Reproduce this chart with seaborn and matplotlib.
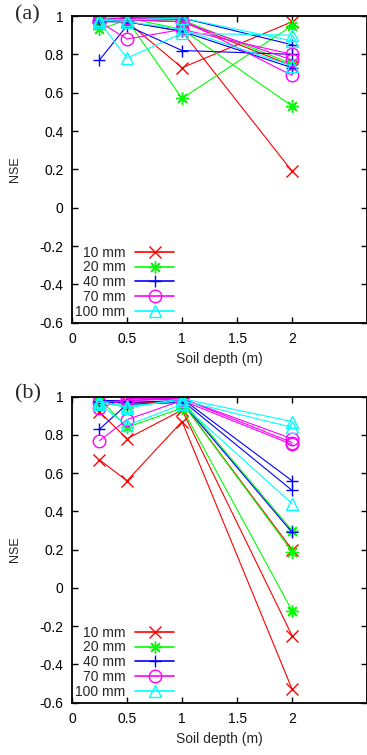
import numpy as np
import pandas as pd
import seaborn as sns
import matplotlib
matplotlib.use("Agg")
import matplotlib.pyplot as plt

# 土层深度 (m)
depths = [0.25, 0.5, 1, 2]
labels = ["10 mm", "20 mm", "40 mm", "70 mm", "100 mm"]
colors = ["#ff0000", "#00ff00", "#0000ff", "#ff00ff", "#00ffff"]
markers = ["x", (8, 2, 0), "+", "o", "^"]

# (a) NSE, three runs per rainfall
a_10mm = [[0.98, 0.97, 0.73, 0.97], [0.98, 0.97, 0.92, 0.19], [0.97, 0.98, 0.97, 0.74]]
a_20mm = [[0.93, 0.98, 0.57, 0.95], [0.99, 0.99, 0.93, 0.53], [0.98, 0.98, 0.98, 0.75]]
a_40mm = [[0.77, 0.95, 0.82, 0.80], [0.97, 0.97, 0.92, 0.73], [0.98, 0.99, 0.99, 0.85]]
a_70mm = [[0.97, 0.88, 0.93, 0.80], [0.98, 0.99, 0.98, 0.69], [0.97, 0.98, 0.97, 0.77]]
a_100mm = [[0.97, 0.78, 0.91, 0.90], [0.98, 0.97, 0.93, 0.74], [0.98, 0.98, 0.99, 0.87]]

# (b)
b_10mm = [[0.67, 0.56, 0.87, -0.53], [0.92, 0.78, 0.93, -0.25], [0.97, 0.97, 0.97, 0.20]]
b_20mm = [[0.99, 0.84, 0.94, -0.12], [0.98, 0.96, 0.97, 0.19], [0.97, 0.95, 0.98, 0.30]]
b_40mm = [[0.83, 0.96, 0.97, 0.29], [0.97, 0.97, 0.98, 0.51], [0.98, 0.98, 0.99, 0.56]]
b_70mm = [[0.77, 0.88, 0.98, 0.75], [0.94, 0.99, 0.99, 0.76], [0.97, 0.98, 0.99, 0.78]]
b_100mm = [[0.96, 0.85, 0.96, 0.44], [0.97, 0.95, 0.98, 0.84], [0.98, 0.94, 0.99, 0.87]]

panel_a = [a_10mm, a_20mm, a_40mm, a_70mm, a_100mm]
panel_b = [b_10mm, b_20mm, b_40mm, b_70mm, b_100mm]

yticks = [-0.6, -0.4, -0.2, 0, 0.2, 0.4, 0.6, 0.8, 1]
ytick_labels = ["-0.6", "-0.4", "-0.2", "0", "0.2", "0.4", "0.6", "0.8", "1"]
xticks = [0, 0.5, 1, 1.5, 2]
xtick_labels = ["0", "0.5", "1", "1.5", "2"]

sns.set_theme(style="ticks")
plt.rcParams['font.family'] = ['Liberation Sans', 'DejaVu Sans']

fig = plt.figure(figsize=(3.67, 7.55), dpi=100)
ax_a = fig.add_axes([0.196, 0.5726, 0.804, 0.4062])
ax_b = fig.add_axes([0.196, 0.0693, 0.804, 0.4053])


def draw_panel(ax, panel):
    handles = []
    for runs, lab, c, m in zip(panel, labels, colors, markers):
        for i, vals in enumerate(runs):
            df = pd.DataFrame({"depth": depths, "nse": vals})
            sns.lineplot(data=df, x="depth", y="nse", ax=ax, color=c, marker=m,
                         markersize=9, markeredgewidth=1.0, markerfacecolor="none",
                         markeredgecolor=c, linewidth=0.8, legend=False)
            if i == 0:
                handles.append(ax.get_lines()[-1])
    ax.set_xlim(0, 2.68)
    ax.set_ylim(-0.6, 1)
    ax.set_xticks(xticks)
    ax.set_xticklabels(xtick_labels)
    ax.set_yticks(yticks)
    ax.set_yticklabels(ytick_labels)
    ax.tick_params(direction="in", top=True, right=True, length=4, width=1,
                   labelsize=10, colors="black")
    ax.tick_params(axis="x", pad=7)
    ax.tick_params(axis="y", pad=6)
    for s in ax.spines.values():
        s.set_linewidth(1.3)
        s.set_color("black")
    ax.set_xlabel("Soil depth (m)", fontsize=10)
    ax.set_ylabel("NSE", fontsize=9)
    ax.xaxis.set_label_coords(0.5, -0.095)
    ax.yaxis.set_label_coords(-0.172, 0.5)
    leg = ax.legend(handles, labels, loc="lower right", bbox_to_anchor=(0.36, 0.0),
                    markerfirst=False, frameon=False, fontsize=10, handlelength=2.8,
                    handletextpad=0.7, labelspacing=0.05, borderaxespad=0.1,
                    borderpad=0.2)
    for h in leg.legend_handles:
        h.set_linewidth(1.2)


draw_panel(ax_a, panel_a)
draw_panel(ax_b, panel_b)

fig.text(0.075, 0.980, "(a)", family="Liberation Serif", fontsize=16, ha="center", va="center")
fig.text(0.075, 0.478, "(b)", family="Liberation Serif", fontsize=16, ha="center", va="center")

fig.savefig("out.png", dpi=100)
